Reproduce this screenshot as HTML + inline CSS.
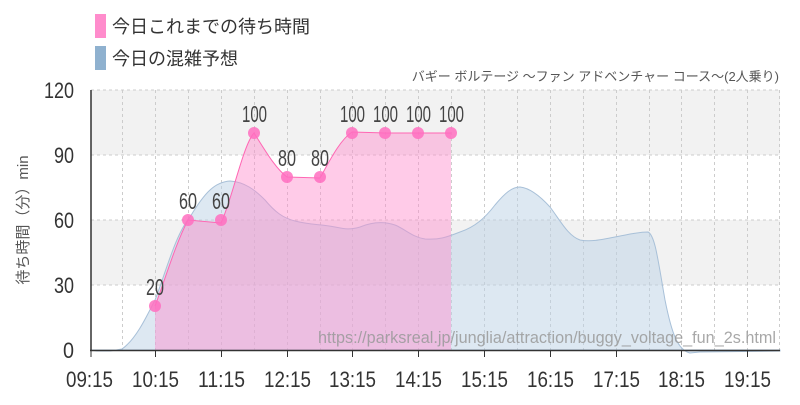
<!DOCTYPE html>
<html><head><meta charset="utf-8"><style>
body{margin:0;background:#fff;width:800px;height:400px;overflow:hidden}
text{font-family:"Liberation Sans","Noto Sans CJK JP",sans-serif}
</style></head><body>
<svg width="800" height="400" xmlns="http://www.w3.org/2000/svg">
<rect x="95" y="14" width="11" height="24" fill="#ff8ccc"/>
<text x="112" y="33" font-size="18" fill="#333">今日これまでの待ち時間</text>
<rect x="95" y="46" width="11" height="24" fill="#8fb1cf"/>
<text x="112" y="65" font-size="18" fill="#333">今日の混雑予想</text>
<text x="779" y="81" font-size="13" fill="#555" text-anchor="end">バギー ボルテージ 〜ファン アドベンチャー コース〜(2人乗り)</text>
<rect x="91" y="90" width="689" height="65" fill="#f2f2f2"/>
<rect x="91" y="220" width="689" height="65" fill="#f2f2f2"/>
<g stroke="#ccc" stroke-dasharray="3,3" stroke-width="1">
<line x1="91" y1="90" x2="780" y2="90"/><line x1="91" y1="155" x2="780" y2="155"/><line x1="91" y1="220" x2="780" y2="220"/><line x1="91" y1="285" x2="780" y2="285"/>
<line x1="122.5" y1="90" x2="122.5" y2="350"/><line x1="155.5" y1="90" x2="155.5" y2="350"/><line x1="188.5" y1="90" x2="188.5" y2="350"/><line x1="221.5" y1="90" x2="221.5" y2="350"/><line x1="254.5" y1="90" x2="254.5" y2="350"/><line x1="287.5" y1="90" x2="287.5" y2="350"/><line x1="320.5" y1="90" x2="320.5" y2="350"/><line x1="352.5" y1="90" x2="352.5" y2="350"/><line x1="385.5" y1="90" x2="385.5" y2="350"/><line x1="418.5" y1="90" x2="418.5" y2="350"/><line x1="451.5" y1="90" x2="451.5" y2="350"/><line x1="484.5" y1="90" x2="484.5" y2="350"/><line x1="517.5" y1="90" x2="517.5" y2="350"/><line x1="550.5" y1="90" x2="550.5" y2="350"/><line x1="583.5" y1="90" x2="583.5" y2="350"/><line x1="616.5" y1="90" x2="616.5" y2="350"/><line x1="649.5" y1="90" x2="649.5" y2="350"/><line x1="681.5" y1="90" x2="681.5" y2="350"/><line x1="714.5" y1="90" x2="714.5" y2="350"/><line x1="747.5" y1="90" x2="747.5" y2="350"/><line x1="779.5" y1="90" x2="779.5" y2="350"/>
</g>
<path d="M91,350 L97,351 L110,351 L122,349 C135,340 145,320 155,300 C165,275 175,235 190,217 C205,192 215,182 230,181 C245,182 255,190 265,200 C275,212 283,218 295,221 C310,225 320,224 335,227 C345,229 350,230 360,227 C372,222 383,221 395,225 C405,229 412,237 425,239 C440,240 447,237 460,232 C475,227 485,218 495,205 C505,193 512,187 520,187 C530,188 540,196 550,207 C560,220 568,236 580,240 C590,242 600,240 615,237 C630,234 640,232 648,232 C655,235 658,260 665,300 C672,335 678,350 690,353 L700,352 L780,351 L780,350 L91,350 Z" fill="#bcd2e6" fill-opacity="0.5" stroke="#a8c0d8" stroke-width="1"/>
<path d="M155,306 C165,280 175,245 188,220 L221,223 C232,200 243,145 254,133 C265,150 275,168 287,177 L320,178 C330,160 340,140 352,132 L385,133 L418,133 L451,133 L451,350 L155,350 Z" fill="#ff8ccc" fill-opacity="0.45"/>
<path d="M155,306 C165,280 175,245 188,220 L221,223 C232,200 243,145 254,133 C265,150 275,168 287,177 L320,178 C330,160 340,140 352,132 L385,133 L418,133 L451,133" fill="none" stroke="#ff66b3" stroke-width="1"/>
<g fill="#ff6fbf" fill-opacity="0.85">
<circle cx="155" cy="306" r="6"/><circle cx="188" cy="220" r="6"/><circle cx="221" cy="220" r="6"/><circle cx="254" cy="133" r="6"/><circle cx="287" cy="177" r="6"/><circle cx="320" cy="177" r="6"/><circle cx="352" cy="133" r="6"/><circle cx="385" cy="133" r="6"/><circle cx="418" cy="133" r="6"/><circle cx="451" cy="133" r="6"/>
</g>
<g font-size="23" fill="#444">
<text x="146" y="295" textLength="18" lengthAdjust="spacingAndGlyphs">20</text><text x="179" y="209" textLength="18" lengthAdjust="spacingAndGlyphs">60</text><text x="212" y="209" textLength="18" lengthAdjust="spacingAndGlyphs">60</text><text x="242" y="122" textLength="25" lengthAdjust="spacingAndGlyphs">100</text><text x="278" y="166" textLength="18" lengthAdjust="spacingAndGlyphs">80</text><text x="311" y="166" textLength="18" lengthAdjust="spacingAndGlyphs">80</text><text x="340" y="122" textLength="25" lengthAdjust="spacingAndGlyphs">100</text><text x="373" y="122" textLength="25" lengthAdjust="spacingAndGlyphs">100</text><text x="406" y="122" textLength="25" lengthAdjust="spacingAndGlyphs">100</text><text x="439" y="122" textLength="25" lengthAdjust="spacingAndGlyphs">100</text>
</g>
<text x="318" y="343" font-size="17" fill="#999" fill-opacity="0.85" textLength="458" lengthAdjust="spacingAndGlyphs">https://parksreal.jp/junglia/attraction/buggy_voltage_fun_2s.html</text>
<line x1="91" y1="90" x2="91" y2="351" stroke="#333" stroke-width="1.5"/>
<line x1="90" y1="350.5" x2="780" y2="350.5" stroke="#333" stroke-width="1.5"/>
<g font-size="22" fill="#333">
<text x="44" y="98" textLength="30" lengthAdjust="spacingAndGlyphs">120</text><text x="54" y="163" textLength="20" lengthAdjust="spacingAndGlyphs">90</text><text x="54" y="228" textLength="20" lengthAdjust="spacingAndGlyphs">60</text><text x="54" y="293" textLength="20" lengthAdjust="spacingAndGlyphs">30</text><text x="63" y="358" textLength="11" lengthAdjust="spacingAndGlyphs">0</text>
</g>
<g font-size="22" fill="#333">
<text x="66" y="387" textLength="47" lengthAdjust="spacingAndGlyphs">09:15</text><text x="132" y="387" textLength="47" lengthAdjust="spacingAndGlyphs">10:15</text><text x="198" y="387" textLength="47" lengthAdjust="spacingAndGlyphs">11:15</text><text x="264" y="387" textLength="47" lengthAdjust="spacingAndGlyphs">12:15</text><text x="329" y="387" textLength="47" lengthAdjust="spacingAndGlyphs">13:15</text><text x="395" y="387" textLength="47" lengthAdjust="spacingAndGlyphs">14:15</text><text x="461" y="387" textLength="47" lengthAdjust="spacingAndGlyphs">15:15</text><text x="527" y="387" textLength="47" lengthAdjust="spacingAndGlyphs">16:15</text><text x="593" y="387" textLength="47" lengthAdjust="spacingAndGlyphs">17:15</text><text x="658" y="387" textLength="47" lengthAdjust="spacingAndGlyphs">18:15</text><text x="724" y="387" textLength="47" lengthAdjust="spacingAndGlyphs">19:15</text>
</g>
<g stroke="#333"><line x1="91" y1="351" x2="91" y2="357"/><line x1="155.5" y1="351" x2="155.5" y2="357"/><line x1="221.5" y1="351" x2="221.5" y2="357"/><line x1="287.5" y1="351" x2="287.5" y2="357"/><line x1="352.5" y1="351" x2="352.5" y2="357"/><line x1="418.5" y1="351" x2="418.5" y2="357"/><line x1="484.5" y1="351" x2="484.5" y2="357"/><line x1="550.5" y1="351" x2="550.5" y2="357"/><line x1="616.5" y1="351" x2="616.5" y2="357"/><line x1="681.5" y1="351" x2="681.5" y2="357"/><line x1="747.5" y1="351" x2="747.5" y2="357"/></g>
<text transform="translate(28,220) rotate(-90)" font-size="15" fill="#555" text-anchor="middle">待ち時間（分）min</text>
</svg>
</body></html>
